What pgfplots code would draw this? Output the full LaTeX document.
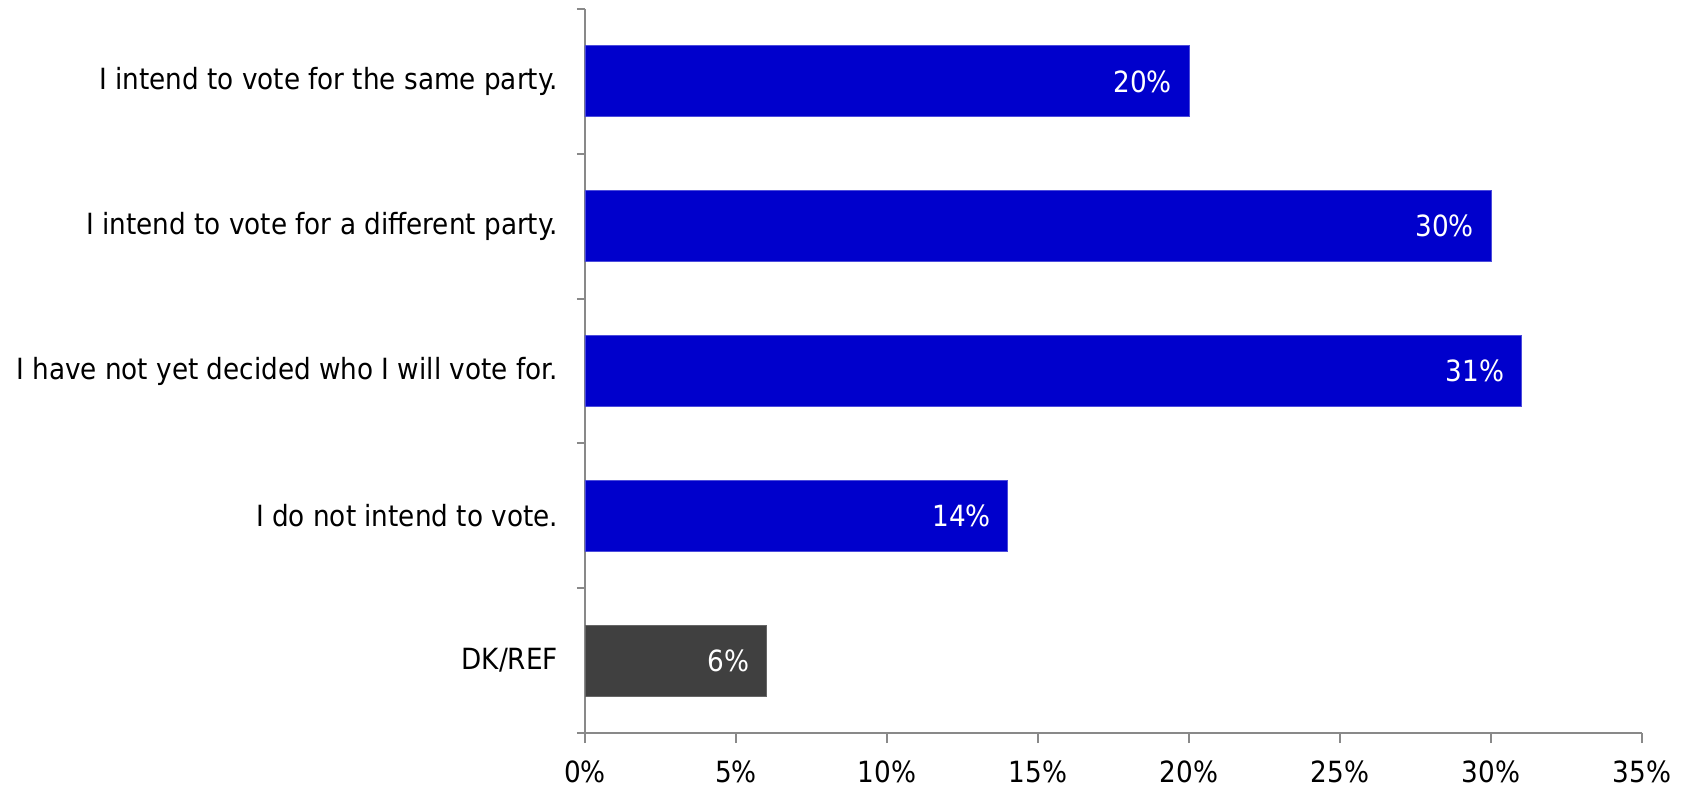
\documentclass[border=0pt]{standalone}
\usepackage{fontspec}
\setmainfont{DejaVu Sans Condensed}
\usepackage{pgfplots}
\pgfplotsset{compat=1.18}
\definecolor{barblue}{HTML}{0000CC}
\definecolor{bargray}{HTML}{404040}
\definecolor{axgray}{HTML}{898989}
\begin{document}
\begin{tikzpicture}
\path[use as bounding box] (-292.5pt,-27pt) rectangle (552.5pt,366.5pt);
\begin{axis}[
  at={(0,0)}, anchor=south west,
  scale only axis,
  width=528.5pt, height=362pt,
  xbar, bar width=35.5pt, bar shift=0pt,
  xmin=0, xmax=35, ymin=-0.5, ymax=4.5,
  axis x line*=bottom, axis y line*=left,
  axis line style={axgray, line width=1pt},
  xtick={0,5,...,35},
  xticklabel={\pgfmathprintnumber{\tick}\%},
  /pgf/number format/assume math mode=true,
  xtick style={axgray, line width=1pt},
  tick align=outside,
  major tick length=5pt,
  ytick={0,1,2,3,4},
  yticklabels={DK/REF, I do not intend to vote., I have not yet decided who I will vote for., I intend to vote for a different party., I intend to vote for the same party.},
  major y tick style={draw=none},
  minor ytick={-0.5,0.5,...,4.5},
  minor tick length=4pt,
  minor y tick style={draw=axgray, line width=1pt},
  tick label style={font=\fontsize{14.6}{17}\selectfont, text=black},
  yticklabel style={xshift=-5pt},
  xticklabel style={yshift=-5.5pt},
  nodes near coords={\pgfmathprintnumber{\pgfplotspointmeta}\%},
  nodes near coords style={anchor=east, text=white, xshift=-5pt, font=\fontsize{14.6}{17}\selectfont, /pgf/number format/assume math mode=true},
  point meta=explicit,
  clip=false,
]
\addplot[fill=barblue, draw=barblue!70!white, line width=0.4pt] coordinates {(20,4) [20] (30,3) [30] (31,2) [31] (14,1) [14]};
\addplot[fill=bargray, draw=bargray!80!white, line width=0.4pt] coordinates {(6,0) [6]};
\end{axis}
\end{tikzpicture}
\end{document}
